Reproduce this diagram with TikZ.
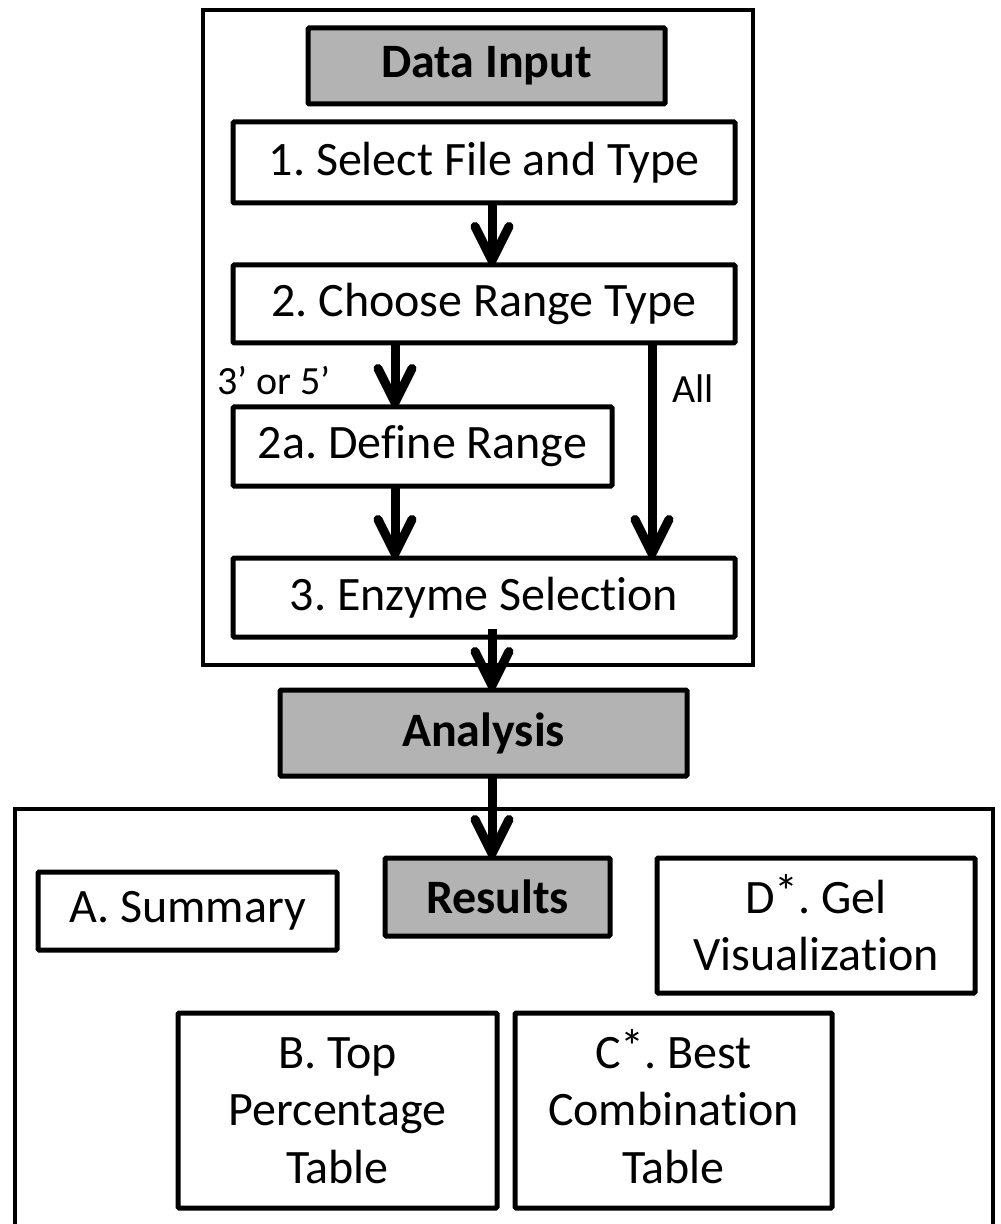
\documentclass[tikz,border=0pt]{standalone}
\usepackage{fontspec}
\setmainfont[Ligatures=NoCommon]{Carlito}
\usetikzlibrary{arrows.meta,calc}
\definecolor{boxgray}{RGB}{179,179,179}
\newcommand{\myast}{\smash{\raisebox{0.1em}{*}}}
\frenchspacing
\begin{document}
\frenchspacing
\begin{tikzpicture}[x=0.5pt,y=-0.5pt,
  every node/.style={inner sep=0pt,outer sep=0pt,align=center,font=\fontsize{24}{28.8}\selectfont},
  stepbox/.style={draw,line width=2.5pt,fill=white,rounded corners=0.6pt},
  graybox/.style={stepbox,fill=boxgray,font=\fontsize{24}{28.8}\selectfont\bfseries},
  frame/.style={draw,line width=2pt},
  arr/.style={line width=4.5pt,-{Straight Barb[length=17pt,width=17pt,round]}},
  lbl/.style={font=\fontsize{20}{24}\selectfont}]
\useasboundingbox (0,0) rectangle (1000,1224);
\fill[white] (0,0) rectangle (1000,1224);

% outer frames
\node[frame,minimum width=275pt,minimum height=327.5pt] (outer1) at (478,337.5) {};
\draw[line width=2pt] (15,1230) -- (15,809) -- (993,809) -- (993,1230);

% column coordinates
\coordinate (cx) at (492,0);
\coordinate (lx) at (395,0);
\coordinate (rx) at (652,0);

% nodes
\node[graybox,minimum width=178.5pt,minimum height=38pt] (datain) at (486.5,66) {Data Input};
\node[stepbox,minimum width=251pt,minimum height=40.5pt] (s1) at (484,162.5) {1. Select File and Type};
\node[stepbox,minimum width=251pt,minimum height=39pt] (s2) at (484,304) {2. Choose Range Type};
\node[stepbox,minimum width=189.5pt,minimum height=39.5pt] (s2a) at (422.5,446.5) {2a. Define Range};
\node[stepbox,minimum width=251pt,minimum height=39.5pt] (s3) at (484,597.5) {3. Enzyme Selection};
\node[graybox,minimum width=203.5pt,minimum height=43pt] (analysis) at (483.5,733) {Analysis};
\node[graybox,minimum width=112.5pt,minimum height=39pt] (results) at (497.5,897) {Results};
\node[stepbox,minimum width=149.5pt,minimum height=39pt] (summary) at (187.5,911) {A. Summary};
\node[stepbox,minimum width=159pt,minimum height=67.5pt] (gel) at (816,925.5) {D\myast. Gel\\Visualization};
\node[stepbox,minimum width=159.5pt,minimum height=97.5pt] (tabB) at (337.5,1110.5) {B. Top\\Percentage\\Table};
\node[stepbox,minimum width=158.5pt,minimum height=97.5pt] (tabC) at (673.5,1110.5) {C\myast. Best\\Combination\\Table};

% labels
\node[lbl] (l35) at (274,381) {3’ or 5’};
\node[lbl] (lall) at (693,389) {All};

% connectors
\draw[arr] (s1.south -| cx) -- (s2.north -| cx);
\draw[arr] (s2.south -| lx) -- (s2a.north -| lx);
\draw[arr] (s2a.south -| lx) -- (s3.north -| lx);
\draw[arr] (s2.south -| rx) -- (s3.north -| rx);
\draw[arr] ($(s3.south -| cx)+(0,-8)$) -- (analysis.north -| cx);
\draw[arr] (analysis.south -| cx) -- (results.north -| cx);
\end{tikzpicture}
\end{document}
